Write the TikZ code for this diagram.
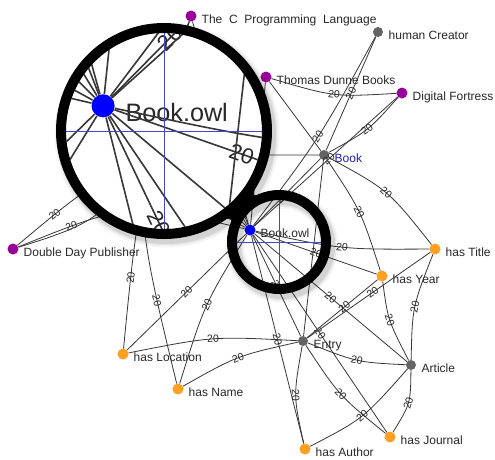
\documentclass[tikz,border=0pt]{standalone}
\usepackage{fontspec}
\setmainfont{Liberation Sans}
\newfontfamily\widefont{Liberation Sans}[WordSpace=2]
\definecolor{nodepurple}{RGB}{153,0,153}
\definecolor{nodeorange}{RGB}{255,160,32}
\definecolor{nodegray}{RGB}{100,100,100}
\definecolor{owlblue}{RGB}{0,0,255}
\definecolor{edgegray}{RGB}{55,55,55}
\definecolor{crossblue}{RGB}{70,70,200}
\definecolor{bookblue}{RGB}{30,30,190}
\definecolor{labelgray}{RGB}{40,40,40}
\tikzset{
  dotp/.style={circle,fill=nodepurple,inner sep=0,minimum size=11pt},
  doto/.style={circle,fill=nodeorange,inner sep=0,minimum size=11pt},
  dotg/.style={circle,fill=nodegray,inner sep=0,minimum size=10pt},
  dotb/.style={circle,fill=owlblue,inner sep=0,minimum size=11pt},
  lbl/.style={anchor=base west,inner sep=0,text=labelgray,font=\fontsize{12}{12}\selectfont},
  edge/.style={draw=edgegray,line width=\edgelw},
  elab/.style={sloped,inner sep=0.5pt,text=labelgray,font=\fontsize{10.5}{10.5}\selectfont},
  ring/.style={draw=black,line width=10pt},
  cross/.style={draw=crossblue,line width=0.8pt},
}
% caption of a graph node: name, x, y, text
\newcommand\glabelon[4]{%
  \pgfmathsetmacro\lblx{#2+10.5}%
  \pgfmathsetmacro\lbly{#3+7.5}%
  \node[lbl] (#1-t) at (\lblx,\lbly) {#4};%
}
\newcommand\glabeloff[4]{}
\let\glabel\glabelon
% a graph node: name, style, x, y, caption
\newcommand\graphdot[5]{\node[#2] (#1) at (#3,#4) {};\glabel{#1}{#3}{#4}{#5}}
\newcommand\graphdotmain[5]{\node[#2] (#1) at (#3,#4) {};\glabelon{#1}{#3}{#4}{#5}}
% edge weights: \lab for all weights, \nlab for those near Book.owl
\newcommand\labon[1]{node[elab,pos=#1]{20}}
\newcommand\laboff[1]{}
\let\lab\labon
\newcommand\nlab[1]{node[elab,pos=#1]{20}}
% the whole ontology graph
\newcommand\drawgraph{%
  \graphdot{thec}{dotp}{191}{16}{{\widefont The C Programming Language}}
  \graphdot{human}{dotg}{378}{32}{human Creator}
  \graphdot{thomas}{dotp}{266}{77}{Thomas Dunne Books}
  \graphdot{digital}{dotp}{402}{93}{Digital Fortress}
  \graphdot{book}{dotg}{324}{155}{\textcolor{bookblue}{Book}}
  \graphdotmain{bookowl}{dotb}{250}{230}{Book.owl}
  \graphdot{hastitle}{doto}{435}{249}{has Title}
  \graphdot{hasyear}{doto}{382}{276}{has Year}
  \graphdot{doubleday}{dotp}{13}{249}{Double Day Publisher}
  \graphdot{hasloc}{doto}{123}{354}{has Location}
  \graphdot{entry}{dotg}{303}{341}{Entry}
  \graphdot{article}{dotg}{411}{365}{Article}
  \graphdot{hasname}{doto}{178}{389}{has Name}
  \graphdot{hasjournal}{doto}{390}{437}{has Journal}
  \graphdot{hasauthor}{doto}{305}{449}{has Author}
  % ends of edges hidden below the big lens
  \coordinate (hA) at (170,150);
  \coordinate (hB) at (195,140);
  \coordinate (hC) at (140,170);
  \coordinate (hD) at (200,100);
  % edges of Book.owl
  \draw[edge] (bookowl) -- (book) \nlab{.42};
  \draw[edge] (bookowl) .. controls (319,139) .. (human) \lab{.5};
  \draw[edge] (bookowl) -- (digital) \lab{.52};
  \draw[edge] (bookowl) -- (thomas);
  \draw[edge] (bookowl) -- (thec);
  \draw[edge] (bookowl) -- (hA);
  \draw[edge] (bookowl) -- (hB);
  \draw[edge] (bookowl) -- (hC);
  \draw[edge] (bookowl) -- (hD);
  \draw[edge] (bookowl) -- (hasloc) \lab{.5};
  \draw[edge] (hasname) .. controls (204.7,303.5) .. (bookowl) \lab{.5};
  \draw[edge] (bookowl) -- (hasauthor) \lab{.5};
  \draw[edge] (bookowl) -- (entry) \nlab{.5};
  \draw[edge] (bookowl) -- (hasjournal) \lab{.5};
  \draw[edge] (bookowl) -- (article) \lab{.5};
  \draw[edge] (bookowl) -- (hasyear) \nlab{.5};
  \draw[edge] (bookowl) .. controls (341.8,249.5) .. (hastitle) \lab{.5};
  % edges of Book
  \draw[edge] (book) -- (thomas);
  \draw[edge] (book) -- (human) \lab{.5};
  \draw[edge] (book) .. controls (368.3,130.7) .. (digital) \lab{.5};
  \draw[edge] (thomas) .. controls (334,97) .. (digital) \lab{.5};
  \draw[edge] (book) .. controls (388.2,190) .. (hastitle) \lab{.5};
  \draw[edge] (book) .. controls (361,210.8) .. (hasyear) \lab{.5};
  \draw[edge] (book) -- (entry);
  % edges of Entry and Article
  \draw[edge] (entry) -- (hastitle) \lab{.53};
  \draw[edge] (entry) -- (hasyear) \lab{.53};
  \draw[edge] (hasyear) .. controls (387.8,319.8) .. (article) \lab{.5};
  \draw[edge] (hastitle) .. controls (412.3,307) .. (article) \lab{.5};
  \draw[edge] (entry) .. controls (357,362.3) .. (article) \lab{.5};
  \draw[edge] (entry) .. controls (293.3,396) .. (hasauthor) \lab{.5};
  \draw[edge] (entry) .. controls (339.2,395.7) .. (hasjournal) \lab{.5};
  \draw[edge] (article) .. controls (363.3,418.7) .. (hasauthor) \lab{.5};
  \draw[edge] (article) .. controls (410.5,403.7) .. (hasjournal) \lab{.5};
  \draw[edge] (hasloc) .. controls (213,336.2) .. (entry) \lab{.5};
  \draw[edge] (hasname) .. controls (237.2,355.7) .. (entry) \lab{.5};
  % edges on the left
  \draw[edge] (doubleday) .. controls (125,155) .. (book) \lab{.13};
  \draw[edge] (doubleday) .. controls (130,202) .. (bookowl) \lab{.19};
  \draw[edge] (doubleday) .. controls (120,215) .. (thec);
  \draw[edge] (hasloc) .. controls (138,200) .. (thec) \lab{.19};
  \draw[edge] (hasname) .. controls (130,191) .. (thec) \lab{.17};
}
\begin{document}
\begin{tikzpicture}[x=1pt,y=-1pt]
  \useasboundingbox (0,0) rectangle (495,459);
  \fill[white] (0,0) rectangle (495,459);
  \def\edgelw{0.8pt}
  \drawgraph
  % soft shadow of the magnifier
  \begin{scope}[shift={(3,4)}]
    \foreach \w/\o in {19/0.04,15/0.06,12/0.08}{
      \draw[line width=\w pt,black,opacity=\o] (164,131) circle (103);
      \draw[line width=\w pt,black,opacity=\o] (279,242) circle (47);
    }
  \end{scope}
  % big lens with the magnified view around Book.owl
  \fill[white] (164,131) circle (98);
  \begin{scope}
    \clip (164,131) circle (98);
    \begin{scope}[shift={(164,131)},scale=2.1,shift={(-279,-242)},transform shape]
      \def\edgelw{1.6pt}
      \let\glabel\glabeloff
      \let\lab\laboff
      \drawgraph
    \end{scope}
    \draw[cross] (60,131) -- (268,131) (164,27) -- (164,235);
  \end{scope}
  \draw[ring] (164,131) circle (103);
  % small lens
  \begin{scope}
    \clip (279,242) circle (42);
    \draw[cross] (230,242) -- (330,242) (279,190) -- (279,295);
  \end{scope}
  \draw[ring] (279,242) circle (47);
  % joint between both lenses
  \fill[black] (254.7,187.7) .. controls (252.6,196.6) .. (264.9,193)
    -- (229.5,229.7) .. controls (232.7,217.2) .. (223.8,219.7) -- cycle;
\end{tikzpicture}
\end{document}
